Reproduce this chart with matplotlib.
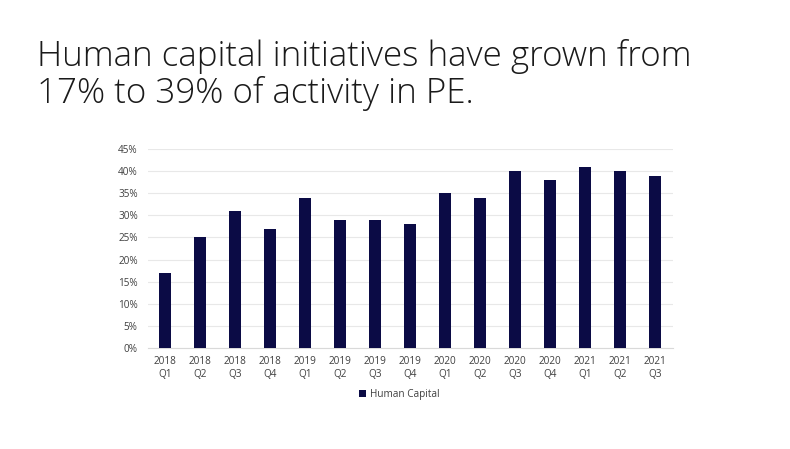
import matplotlib.pyplot as plt
from matplotlib.ticker import PercentFormatter

quarters = ["2018\nQ1", "2018\nQ2", "2018\nQ3", "2018\nQ4",
            "2019\nQ1", "2019\nQ2", "2019\nQ3", "2019\nQ4",
            "2020\nQ1", "2020\nQ2", "2020\nQ3", "2020\nQ4",
            "2021\nQ1", "2021\nQ2", "2021\nQ3"]
human_capital = [17, 25, 31, 27, 34, 29, 29, 28, 35, 34, 40, 38, 41, 40, 39]

plt.rcParams['font.family'] = ['Open Sans', 'DejaVu Sans']

fig = plt.figure(figsize=(7.9, 4.49), dpi=100)
fig.text(37 / 790, 1 - 103 / 449,
         "Human capital initiatives have grown from\n17% to 39% of activity in PE.",
         fontsize=25.2, color="#1a1a1a", va="baseline", ha="left", linespacing=1.08,
         fontweight="light")

ax = fig.add_axes([147.5 / 790, 1 - 348 / 449, 525 / 790, 199 / 449])
x = range(len(quarters))
ax.bar(x, human_capital, width=0.32, color="#0b0b45", label="Human Capital", zorder=3)
ax.set_xlim(-0.5, len(quarters) - 0.5)
ax.set_ylim(0, 45)
ax.set_yticks(range(0, 46, 5))
ax.yaxis.set_major_formatter(PercentFormatter(decimals=0))
ax.set_xticks(list(x))
ax.set_xticklabels(quarters)
ax.grid(axis="y", color="#e8e8e8", linewidth=0.8, zorder=0)
for s in ["top", "right", "left"]:
    ax.spines[s].set_visible(False)
ax.spines["bottom"].set_color("#d9d9d9")
ax.tick_params(axis="both", length=0, labelsize=7.2, colors="#404040")
ax.tick_params(axis="x", pad=6)
ax.tick_params(axis="y", pad=7)
ax.legend(loc="center", bbox_to_anchor=(0.48, -0.232), frameon=False,
          fontsize=7.2, handlelength=0.7, handleheight=0.7, handletextpad=0.4,
          labelcolor="#404040")

fig.savefig("out.png", dpi=100)
